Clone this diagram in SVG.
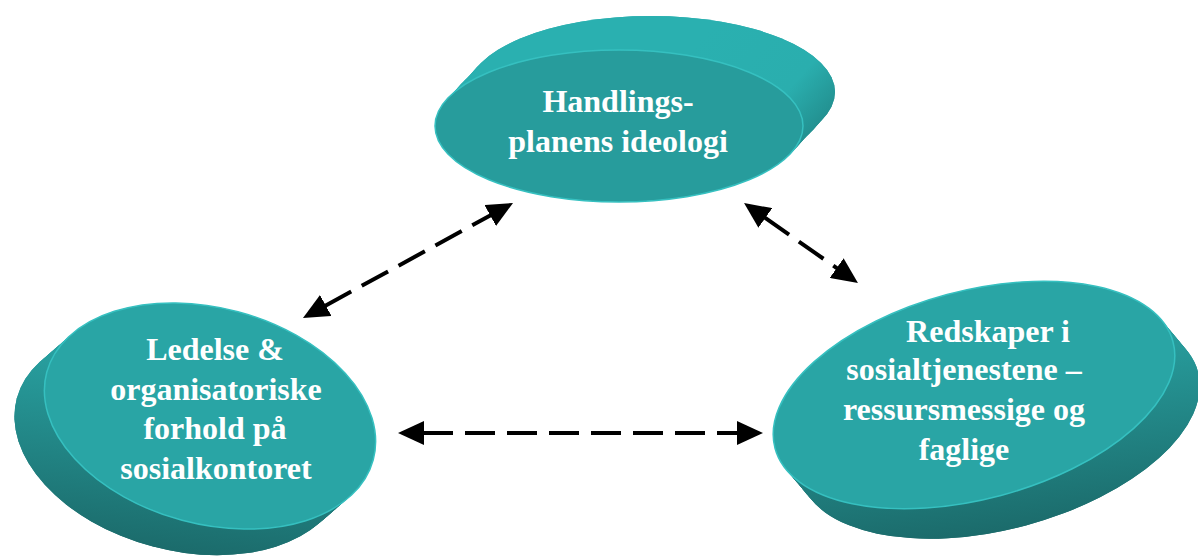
<svg xmlns="http://www.w3.org/2000/svg" xmlns:xlink="http://www.w3.org/1999/xlink" width="1198" height="556" viewBox="0 0 1198 556">
<style>
.face{stroke:#36c0c0;stroke-width:1.5}
.lbl{font-family:"Liberation Serif","Times New Roman",serif;font-weight:bold;font-size:32px;fill:#ffffff;text-anchor:middle}
.con{stroke:#000;stroke-width:4;fill:none;stroke-dasharray:30 12}
</style>
<defs>
<linearGradient id="gT" gradientUnits="userSpaceOnUse" x1="700" y1="40" x2="835" y2="160">
<stop offset="0" stop-color="#2ab0b0"/><stop offset="0.55" stop-color="#2aaeae"/><stop offset="1" stop-color="#1d7a7a"/>
</linearGradient>
<linearGradient id="gL" gradientUnits="userSpaceOnUse" x1="0" y1="-60" x2="30" y2="140">
<stop offset="0" stop-color="#29a3a3"/><stop offset="1" stop-color="#1b6a6a"/>
</linearGradient>
<linearGradient id="gR" gradientUnits="userSpaceOnUse" x1="0" y1="-60" x2="-30" y2="140">
<stop offset="0" stop-color="#29a3a3"/><stop offset="1" stop-color="#1b6a6a"/>
</linearGradient>
<pattern id="hT" patternUnits="userSpaceOnUse" width="5" height="5" patternTransform="rotate(45)">
<line x1="0" y1="0" x2="0" y2="5" stroke="#ffffff" stroke-opacity="0.14" stroke-width="0.8"/>
</pattern>
<pattern id="hL" patternUnits="userSpaceOnUse" width="5" height="5" patternTransform="rotate(30)">
<line x1="0" y1="0" x2="0" y2="5" stroke="#ffffff" stroke-opacity="0.12" stroke-width="0.8"/>
</pattern>
<pattern id="hR" patternUnits="userSpaceOnUse" width="5" height="5" patternTransform="rotate(60)">
<line x1="0" y1="0" x2="0" y2="5" stroke="#ffffff" stroke-opacity="0.12" stroke-width="0.8"/>
</pattern>
<marker id="ah" viewBox="0 0 26 24" refX="1" refY="12" markerWidth="26" markerHeight="24" markerUnits="userSpaceOnUse" orient="auto-start-reverse">
<path d="M0,0 L26,12 L0,24 z" fill="#000"/>
</marker>
</defs>

<g id="node-top">
<g id="stackT" fill="url(#gT)">
<ellipse cx="651" cy="92" rx="184" ry="76"/>
<ellipse cx="647" cy="96" rx="184" ry="76"/>
<ellipse cx="643" cy="101" rx="184" ry="76"/>
<ellipse cx="639" cy="105" rx="184" ry="76"/>
<ellipse cx="635" cy="109" rx="184" ry="76"/>
<ellipse cx="631" cy="113" rx="184" ry="76"/>
<ellipse cx="627" cy="118" rx="184" ry="76"/>
<ellipse cx="623" cy="122" rx="184" ry="76"/>
</g>
<use xlink:href="#stackT" href="#stackT" fill="url(#hT)"/>
<ellipse class="face" cx="619" cy="126" rx="184" ry="76" fill="#279c9c"/>
<text class="lbl" x="618" y="112">Handlings-</text>
<text class="lbl" x="618" y="152">planens ideologi</text>
</g>

<g id="node-left">
<g transform="translate(210,416) rotate(15)">
<g id="stackL" fill="url(#gL)">
<ellipse cx="-22.2" cy="32.9" rx="169" ry="108"/>
<ellipse cx="-19.4" cy="28.8" rx="169" ry="108"/>
<ellipse cx="-16.6" cy="24.7" rx="169" ry="108"/>
<ellipse cx="-13.9" cy="20.6" rx="169" ry="108"/>
<ellipse cx="-11.1" cy="16.5" rx="169" ry="108"/>
<ellipse cx="-8.3" cy="12.3" rx="169" ry="108"/>
<ellipse cx="-5.6" cy="8.2" rx="169" ry="108"/>
<ellipse cx="-2.8" cy="4.1" rx="169" ry="108"/>
</g>
<use xlink:href="#stackL" href="#stackL" fill="url(#hL)"/>
<ellipse class="face" cx="0" cy="0" rx="169" ry="108" fill="#29a5a5"/>
</g>
<text class="lbl" x="215" y="360">Ledelse &amp;</text>
<text class="lbl" x="216" y="400">organisatoriske</text>
<text class="lbl" x="215" y="439">forhold på</text>
<text class="lbl" x="216" y="479">sosialkontoret</text>
</g>

<g id="node-right">
<g transform="translate(974,395) rotate(-15)">
<g id="stackR" fill="url(#gR)">
<ellipse cx="16.4" cy="35.4" rx="206" ry="104"/>
<ellipse cx="14.4" cy="31" rx="206" ry="104"/>
<ellipse cx="12.3" cy="26.6" rx="206" ry="104"/>
<ellipse cx="10.3" cy="22.1" rx="206" ry="104"/>
<ellipse cx="8.2" cy="17.7" rx="206" ry="104"/>
<ellipse cx="6.2" cy="13.3" rx="206" ry="104"/>
<ellipse cx="4.1" cy="8.9" rx="206" ry="104"/>
<ellipse cx="2.1" cy="4.4" rx="206" ry="104"/>
</g>
<use xlink:href="#stackR" href="#stackR" fill="url(#hR)"/>
<ellipse class="face" cx="0" cy="0" rx="206" ry="104" fill="#29a5a5"/>
</g>
<text class="lbl" x="988" y="342">Redskaper i</text>
<text class="lbl" x="964" y="380">sosialtjenestene –</text>
<text class="lbl" x="964" y="420">ressursmessige og</text>
<text class="lbl" x="964" y="460">faglige</text>
</g>

<g id="connectors">
<line class="con" x1="324.9" y1="306" x2="491.1" y2="215" marker-start="url(#ah)" marker-end="url(#ah)"/>
<line class="con" x1="764.5" y1="217.4" x2="837.5" y2="268.6" marker-start="url(#ah)" marker-end="url(#ah)"/>
<line class="con" x1="423" y1="433" x2="738" y2="433" marker-start="url(#ah)" marker-end="url(#ah)"/>
</g>
</svg>
